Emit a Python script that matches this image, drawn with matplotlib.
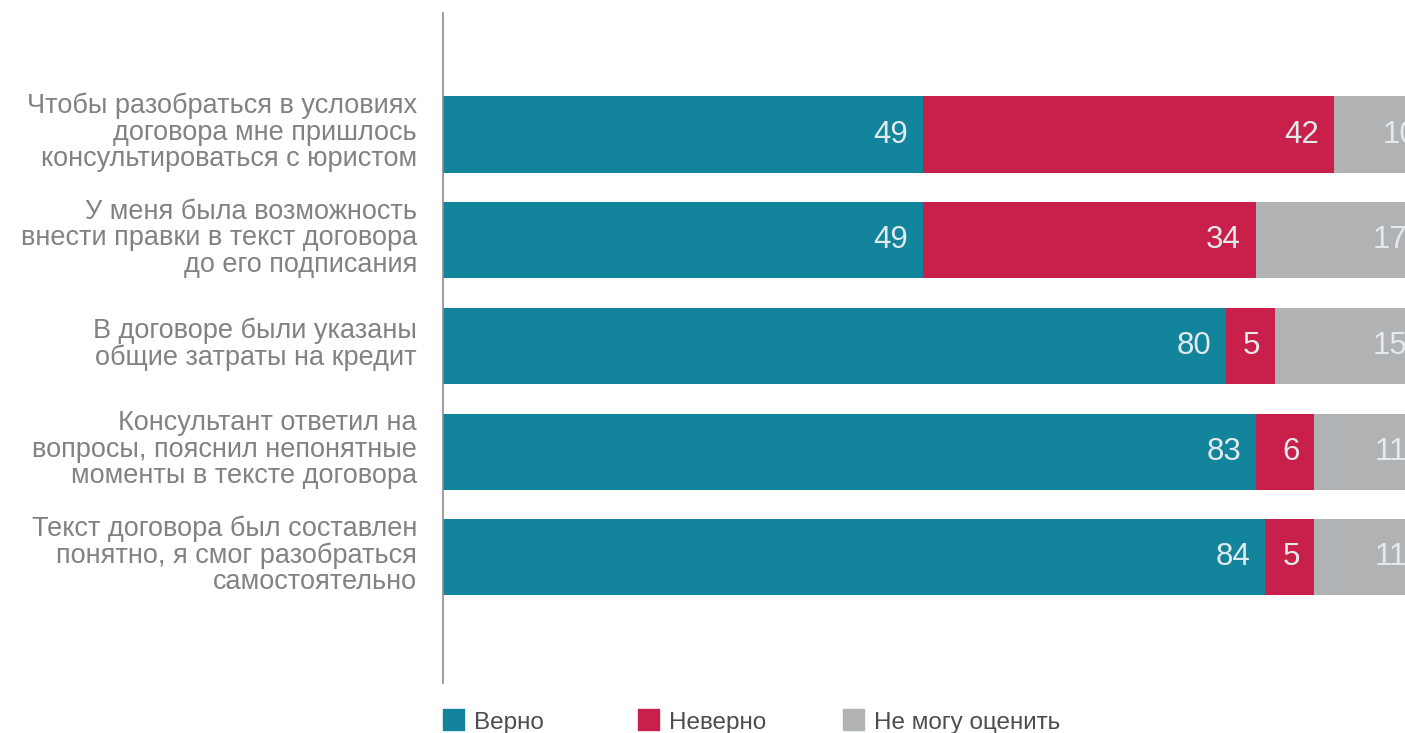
import matplotlib
matplotlib.use("Agg")
import matplotlib.pyplot as plt
from matplotlib.patches import Rectangle
from matplotlib.transforms import offset_copy

categories = [
    "Чтобы разобраться в условиях\nдоговора мне пришлось\nконсультироваться с юристом",
    "У меня была возможность\nвнести правки в текст договора\nдо его подписания",
    "В договоре были указаны\nобщие затраты на кредит",
    "Консультант ответил на\nвопросы, пояснил непонятные\nмоменты в тексте договора",
    "Текст договора был составлен\nпонятно, я смог разобраться\nсамостоятельно",
]
verno = [49, 49, 80, 83, 84]
neverno = [42, 34, 5, 6, 5]
ne_mogu = [10, 17, 15, 11, 11]
series_names = ["Верно", "Неверно", "Не могу оценить"]
colors = ["#12849C", "#C8204A", "#B1B2B4"]

plt.rcParams['font.family'] = ['Liberation Sans', 'DejaVu Sans']

fig = plt.figure(figsize=(14.05, 7.33), dpi=100)
ax = fig.add_axes([443/1405, 1-683/733, (1405-443)/1405, (683-13)/733])

ypos = list(range(len(categories)))
h = 0.72
lefts = [0]*len(categories)
for vals, col in zip([verno, neverno, ne_mogu], colors):
    ax.barh(ypos, vals, left=lefts, height=h, color=col, edgecolor='none', zorder=2)
    for y, l, v in zip(ypos, lefts, vals):
        ax.text(l + v - 1.5, y, str(v), ha='right', va='center', fontsize=22.5,
                color='#E3EAEC', zorder=3, clip_on=True)
    lefts = [a + b for a, b in zip(lefts, vals)]

ax.set_xlim(0, (1405-443)/9.79)
ax.set_ylim(4 + 1.19, -1.15)
for s in ['top', 'right', 'bottom']:
    ax.spines[s].set_visible(False)
ax.spines['left'].set_color('#8C8C8C')
ax.spines['left'].set_linewidth(1.2)
ax.set_xticks([])
ax.set_yticks([])

lab_tr = offset_copy(ax.get_yaxis_transform(), fig=fig, x=-26, y=2, units='dots')
for y, lab in zip(ypos, categories):
    ax.text(0, y, lab, transform=lab_tr, ha='right', va='center', fontsize=19.5,
            color='#808285', linespacing=1.02, multialignment='right')

# legend
leg_x = [443, 638, 843]
for x, name, col in zip(leg_x, series_names, colors):
    fig.patches.append(Rectangle((x/1405, 1-730/733), 21/1405, 21/733,
                                 transform=fig.transFigure, color=col, figure=fig))
    fig.text((x+31)/1405, 1-729/733, name, fontsize=17.5, color='#4D4D4F',
             ha='left', va='baseline')

fig.savefig("out.png", dpi=100)
